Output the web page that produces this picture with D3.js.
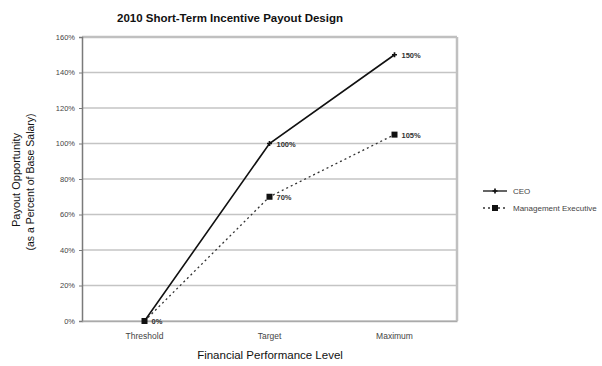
<!DOCTYPE html>
<html><head><meta charset="utf-8">
<script src="https://cdn.jsdelivr.net/npm/d3@7"></script>
<style>body{margin:0;background:#fff}svg{display:block}text{font-family:"Liberation Sans",Arial,sans-serif}</style>
</head><body>
<script>
const categories = ["Threshold", "Target", "Maximum"];
const ceoValues = [0, 100, 150];
const mgmtValues = [0, 70, 105];
const yTicks = [0, 20, 40, 60, 80, 100, 120, 140, 160];
const seriesNames = ["CEO", "Management Executive"];

const W = 602, H = 366;
const m = {left: 82, right: 457, top: 37, bottom: 321};
const svg = d3.select("body").append("svg").attr("width", W).attr("height", H);

const x = d3.scaleBand().domain(categories).range([m.left, m.right]);
const y = d3.scaleLinear().domain([0, 160]).range([m.bottom, m.top]);
const cx = d => x(d) + x.bandwidth() / 2;

// gridlines
svg.append("g").selectAll("line").data(yTicks).join("line")
  .attr("x1", m.left).attr("x2", m.right)
  .attr("y1", d => y(d)).attr("y2", d => y(d))
  .attr("stroke", "#c4c4c4").attr("stroke-width", 1.5);

// border
svg.append("line").attr("x1", m.right).attr("x2", m.right).attr("y1", m.top).attr("y2", m.bottom)
  .attr("stroke", "#c0c0c0").attr("stroke-width", 2.5);
svg.append("line").attr("x1", m.left).attr("x2", m.right).attr("y1", m.top).attr("y2", m.top)
  .attr("stroke", "#c0c0c0").attr("stroke-width", 2.5);

// y axis
const yAxis = d3.axisLeft(y).tickValues(yTicks).tickFormat(d => d + "%").tickSize(3).tickPadding(4);
const gy = svg.append("g").attr("transform", `translate(${m.left},0)`).call(yAxis);
gy.select(".domain").attr("stroke", "#7a7a7a").attr("stroke-width", 1.5);
gy.selectAll(".tick line").attr("stroke", "#7a7a7a");
gy.selectAll("text").attr("font-size", 7.5).attr("fill", "#444");

// x axis
const xAxis = d3.axisBottom(x).tickSize(0).tickPadding(12);
const gx = svg.append("g").attr("transform", `translate(0,${m.bottom})`).call(xAxis);
gx.select(".domain").attr("stroke", "#aaa").attr("stroke-width", 1.5);
gx.selectAll("text").attr("font-size", 8.5).attr("fill", "#444");

const line = d3.line().x((d, i) => cx(categories[i])).y(d => y(d));

// Management series
svg.append("path").datum(mgmtValues).attr("d", line).attr("fill", "none")
  .attr("stroke", "#333").attr("stroke-width", 1.3).attr("stroke-dasharray", "2,3");
svg.append("g").selectAll("rect").data(mgmtValues).join("rect")
  .attr("x", (d, i) => cx(categories[i]) - 3).attr("y", d => y(d) - 3)
  .attr("width", 6).attr("height", 6).attr("fill", "#111");

// CEO series
svg.append("path").datum(ceoValues).attr("d", line).attr("fill", "none")
  .attr("stroke", "#111").attr("stroke-width", 1.6);
svg.append("g").selectAll("path").data(ceoValues).join("path")
  .attr("d", d3.symbol(d3.symbolCross, 14))
  .attr("transform", (d, i) => `translate(${cx(categories[i])},${y(d)})`).attr("fill", "#111");

// labels
const labels = [];
ceoValues.forEach((v, i) => labels.push({c: categories[i], v}));
mgmtValues.forEach((v, i) => { if (v !== 0) labels.push({c: categories[i], v}); });
svg.append("g").selectAll("text").data(labels).join("text")
  .attr("x", d => cx(d.c) + 7).attr("y", d => y(d.v) + 3)
  .attr("font-size", 7.5).attr("font-weight", "bold").attr("fill", "#333").text(d => d.v + "%");

// title
svg.append("text").attr("x", 230).attr("y", 22).attr("text-anchor", "middle")
  .attr("font-size", 11.5).attr("font-weight", "bold").attr("fill", "#111")
  .text("2010 Short-Term Incentive Payout Design");

// axis titles
svg.append("text").attr("x", 270).attr("y", 359).attr("text-anchor", "middle")
  .attr("font-size", 11.5).attr("fill", "#111").text("Financial Performance Level");
svg.append("text").attr("transform", "translate(20,180) rotate(-90)").attr("text-anchor", "middle")
  .attr("font-size", 11).attr("fill", "#111").text("Payout Opportunity");
svg.append("text").attr("transform", "translate(34,182) rotate(-90)").attr("text-anchor", "middle")
  .attr("font-size", 10.5).attr("fill", "#111").text("(as a Percent of Base Salary)");

// legend
const lg = svg.append("g");
const ly = [191, 208];
lg.append("line").attr("x1", 483).attr("x2", 507).attr("y1", ly[0]).attr("y2", ly[0]).attr("stroke", "#111").attr("stroke-width", 1.3);
lg.append("path").attr("d", d3.symbol(d3.symbolCross, 14)).attr("transform", `translate(495,${ly[0]})`).attr("fill", "#111");
lg.append("line").attr("x1", 483).attr("x2", 507).attr("y1", ly[1]).attr("y2", ly[1]).attr("stroke", "#333").attr("stroke-width", 1.3).attr("stroke-dasharray", "2,3");
lg.append("rect").attr("x", 492).attr("y", ly[1] - 3).attr("width", 6).attr("height", 6).attr("fill", "#111");
lg.selectAll("text").data(seriesNames).join("text")
  .attr("x", 513).attr("y", (d, i) => ly[i] + 3).attr("font-size", 8).attr("fill", "#444").text(d => d);
</script>
</body></html>
